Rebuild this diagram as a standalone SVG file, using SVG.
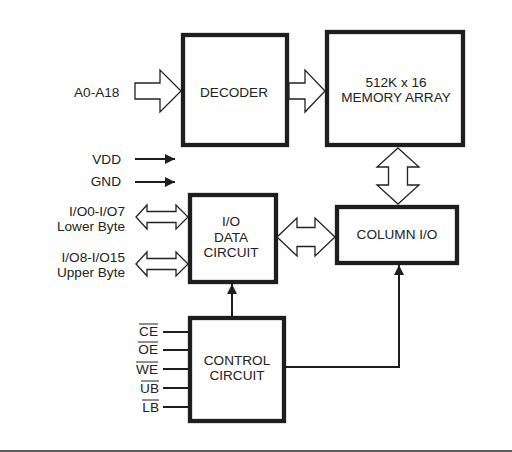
<svg xmlns="http://www.w3.org/2000/svg" width="512" height="452" viewBox="0 0 512 452">
<style>
.box{fill:#fff;stroke:#1e1e1e;stroke-width:4.3}
.t{font-family:"Liberation Sans",Arial,sans-serif;font-size:13.6px;fill:#222}
.m{text-anchor:middle}
.e{text-anchor:end}
.fat{fill:#fff;stroke:#222;stroke-width:1.3;stroke-linejoin:miter}
.ln{fill:none;stroke:#1e1e1e;stroke-width:2}
.ov{stroke:#222;stroke-width:1}
</style>
<defs>
<marker id="ah" viewBox="0 0 10 10" refX="10" refY="5" markerWidth="5" markerHeight="5" orient="auto" markerUnits="strokeWidth">
<path d="M0,0 L10,5 L0,10 z" fill="#1e1e1e"/>
</marker>
</defs>
<rect width="512" height="452" fill="#fff"/>

<g id="decoder">
<rect class="box" x="183" y="35" width="104" height="110"/>
<text class="t m" x="234" y="97">DECODER</text>
</g>
<g id="memory">
<rect class="box" x="327" y="32" width="136" height="113"/>
<text class="t m" x="396" y="87">512K x 16</text>
<text class="t m" x="396" y="102">MEMORY ARRAY</text>
</g>
<g id="columnio">
<rect class="box" x="337" y="207" width="120" height="56"/>
<text class="t m" x="397" y="239">COLUMN I/O</text>
</g>
<g id="iodata">
<rect class="box" x="190" y="195" width="86" height="87"/>
<text class="t m" x="231" y="226">I/O</text>
<text class="t m" x="231" y="242">DATA</text>
<text class="t m" x="231" y="257">CIRCUIT</text>
</g>
<g id="control">
<rect class="box" x="190" y="318" width="94" height="103"/>
<text class="t m" x="237" y="365">CONTROL</text>
<text class="t m" x="237" y="380">CIRCUIT</text>
</g>

<g id="labels">
<text class="t" x="74" y="97">A0-A18</text>
<text class="t e" x="121" y="164">VDD</text>
<text class="t e" x="121" y="186">GND</text>
<text class="t e" x="125" y="216">I/O0-I/O7</text>
<text class="t e" x="125" y="231">Lower Byte</text>
<text class="t e" x="125" y="262">I/O8-I/O15</text>
<text class="t e" x="125" y="277">Upper Byte</text>
<text class="t e" x="158" y="336">CE</text>
<line class="ov" x1="139" y1="324" x2="158" y2="324"/>
<text class="t e" x="158" y="354">OE</text>
<line class="ov" x1="138" y1="342" x2="158" y2="342"/>
<text class="t e" x="158" y="374">WE</text>
<line class="ov" x1="136" y1="362" x2="158" y2="362"/>
<text class="t e" x="159" y="393">UB</text>
<line class="ov" x1="141" y1="381" x2="159" y2="381"/>
<text class="t e" x="159" y="412">LB</text>
<line class="ov" x1="142" y1="400" x2="159" y2="400"/>
</g>

<g id="connectors">
<polygon class="fat" points="135,83 160,83 160,70 181,91 160,112 160,99 135,99"/>
<polygon class="fat" points="289,83 305,83 305,70 325,91 305,112 305,99 289,99"/>
<polygon class="fat" points="398,148 419,167 407.5,167 407.5,185 419,185 398,204 377,185 388.5,185 388.5,167 377,167"/>
<polygon class="fat" points="136,217 147,205 147,211.5 176,211.5 176,205 188,217 176,229 176,222.5 147,222.5 147,229"/>
<polygon class="fat" points="136,264 147,252 147,258.5 176,258.5 176,252 188,264 176,276 176,269.5 147,269.5 147,276"/>
<polygon class="fat" points="277,237 297,218 297,227.5 315,227.5 315,218 335,237 315,256 315,246.5 297,246.5 297,256"/>
<line class="ln" x1="135" y1="159" x2="175" y2="159" marker-end="url(#ah)"/>
<line class="ln" x1="135" y1="182" x2="175" y2="182" marker-end="url(#ah)"/>
<line class="ln" x1="232" y1="316" x2="232" y2="284" marker-end="url(#ah)"/>
<polyline class="ln" points="286,367 399,367 399,265" marker-end="url(#ah)"/>
<line class="ln" x1="163" y1="332" x2="188" y2="332"/>
<line class="ln" x1="163" y1="350" x2="188" y2="350"/>
<line class="ln" x1="163" y1="369" x2="188" y2="369"/>
<line class="ln" x1="163" y1="388" x2="188" y2="388"/>
<line class="ln" x1="163" y1="407" x2="188" y2="407"/>
</g>
<line x1="0" y1="451" x2="512" y2="451" stroke="#222" stroke-width="1.5"/>
</svg>
